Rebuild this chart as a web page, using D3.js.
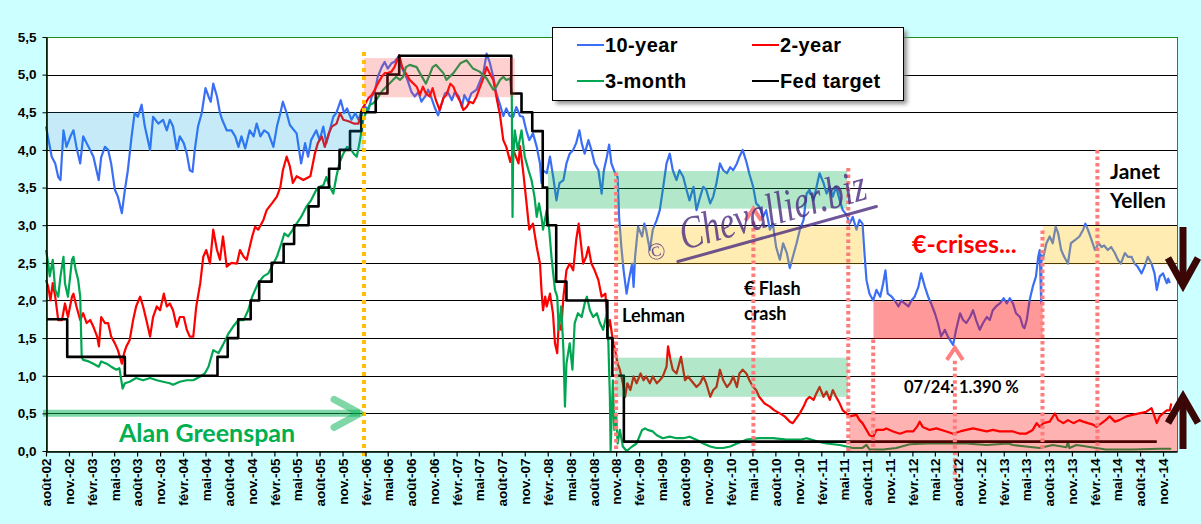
<!DOCTYPE html>
<html><head><meta charset="utf-8">
<script src="https://cdn.jsdelivr.net/npm/d3@7"></script>
<style>body{margin:0;background:#CCFFFF;}svg{display:block}</style>
</head><body><svg id="c" width="1201" height="524"></svg>
<script>
// ---------------- DATA ----------------
const seriesNames = ["10-year","2-year","3-month","Fed target"];
const monthAbbr = ["janv.","févr.","mars","avr.","mai","juin","juil.","août","sept.","oct.","nov.","déc."];
const yTicks = [0,0.5,1,1.5,2,2.5,3,3.5,4,4.5,5,5.5];

const tenYear = [["2002-08-01",4.31],["2002-08-24",3.91],["2002-09-07",3.82],["2002-09-19",3.64],["2002-09-28",3.60],["2002-10-10",4.26],["2002-10-22",4.04],["2002-11-07",4.18],["2002-11-19",4.26],["2002-12-01",4.04],["2002-12-16",3.82],["2002-12-28",4.18],["2003-01-11",4.09],["2003-01-25",4.00],["2003-02-07",3.91],["2003-02-28",3.60],["2003-03-10",3.90],["2003-03-25",4.04],["2003-04-07",4.00],["2003-04-19",3.82],["2003-05-04",3.47],["2003-05-16",3.38],["2003-06-01",3.16],["2003-06-13",3.47],["2003-06-25",3.73],["2003-07-10",4.18],["2003-07-22",4.49],["2003-08-04",4.44],["2003-08-19",4.60],["2003-09-01",4.31],["2003-09-22",4.00],["2003-10-04",4.44],["2003-10-25",4.35],["2003-11-13",4.40],["2003-11-28",4.26],["2003-12-10",4.40],["2003-12-23",4.31],["2004-01-07",4.00],["2004-01-19",4.18],["2004-02-04",4.09],["2004-02-16",3.95],["2004-02-28",3.73],["2004-03-10",3.71],["2004-03-19",4.00],["2004-04-01",4.31],["2004-04-16",4.49],["2004-05-01",4.82],["2004-05-13",4.71],["2004-05-22",4.64],["2004-06-01",4.88],["2004-06-16",4.71],["2004-06-28",4.49],["2004-07-07",4.40],["2004-07-25",4.26],["2004-08-13",4.26],["2004-08-28",4.18],["2004-09-10",4.04],["2004-09-22",4.18],["2004-10-07",4.02],["2004-10-25",4.26],["2004-11-10",4.18],["2004-11-22",4.35],["2004-12-07",4.18],["2004-12-22",4.26],["2005-01-08",4.22],["2005-01-28",4.04],["2005-02-11",4.31],["2005-02-25",4.49],["2005-03-07",4.64],["2005-03-22",4.49],["2005-04-04",4.33],["2005-05-01",4.22],["2005-05-19",3.82],["2005-06-04",4.09],["2005-06-16",3.91],["2005-06-28",4.13],["2005-07-19",4.26],["2005-08-01",4.13],["2005-08-16",4.31],["2005-08-28",4.09],["2005-09-11",4.26],["2005-09-25",4.44],["2005-10-07",4.49],["2005-10-25",4.66],["2005-11-07",4.49],["2005-11-19",4.55],["2005-12-07",4.40],["2005-12-22",4.49],["2006-01-04",4.40],["2006-01-16",4.49],["2006-02-01",4.57],["2006-02-13",4.53],["2006-02-26",4.71],["2006-03-10",4.77],["2006-03-22",4.97],["2006-04-07",5.10],["2006-04-19",5.17],["2006-05-01",5.08],["2006-05-16",5.15],["2006-05-28",5.17],["2006-06-13",5.24],["2006-06-25",5.10],["2006-07-07",5.02],["2006-07-19",4.93],["2006-08-04",4.77],["2006-08-17",4.71],["2006-09-01",4.77],["2006-09-13",4.64],["2006-09-28",4.71],["2006-10-10",4.80],["2006-10-23",4.69],["2006-11-07",4.55],["2006-11-19",4.46],["2006-12-04",4.62],["2006-12-16",4.75],["2006-12-28",4.77],["2007-01-13",4.66],["2007-01-25",4.77],["2007-02-10",4.71],["2007-02-22",4.57],["2007-03-04",4.73],["2007-03-19",4.64],["2007-04-01",4.75],["2007-04-22",4.80],["2007-05-19",5.02],["2007-06-01",5.28],["2007-06-13",5.17],["2007-06-28",4.97],["2007-07-10",4.75],["2007-07-25",4.60],["2007-08-07",4.45],["2007-08-19",4.55],["2007-09-02",4.45],["2007-09-16",4.44],["2007-09-28",4.57],["2007-10-13",4.45],["2007-10-25",4.44],["2007-11-07",4.26],["2007-11-19",4.13],["2007-12-04",4.22],["2007-12-19",4.04],["2008-01-01",3.82],["2008-01-07",3.56],["2008-01-13",3.73],["2008-01-28",3.69],["2008-02-10",3.91],["2008-02-23",3.64],["2008-03-07",3.33],["2008-03-19",3.56],["2008-04-04",3.60],["2008-04-16",3.82],["2008-04-29",3.95],["2008-05-13",4.00],["2008-05-25",4.09],["2008-06-07",4.26],["2008-06-16",4.09],["2008-06-28",3.95],["2008-07-13",4.13],["2008-07-25",4.00],["2008-08-07",3.82],["2008-08-22",3.73],["2008-09-04",3.42],["2008-09-13",3.73],["2008-09-25",3.91],["2008-10-04",4.07],["2008-10-13",3.82],["2008-10-28",3.69],["2008-11-07",3.64],["2008-11-13",3.11],["2008-11-22",2.71],["2008-12-01",2.40],["2008-12-13",2.09],["2008-12-22",2.27],["2009-01-04",2.49],["2009-01-10",2.18],["2009-01-16",2.58],["2009-01-28",2.98],["2009-02-13",2.85],["2009-02-22",3.02],["2009-03-01",2.94],["2009-03-16",2.67],["2009-03-28",2.94],["2009-04-13",3.07],["2009-04-25",3.20],["2009-05-07",3.47],["2009-05-22",3.82],["2009-06-04",3.95],["2009-06-16",3.73],["2009-07-01",3.60],["2009-07-13",3.73],["2009-07-28",3.64],["2009-08-10",3.47],["2009-08-22",3.33],["2009-09-07",3.51],["2009-09-19",3.20],["2009-10-04",3.38],["2009-10-16",3.51],["2009-10-28",3.47],["2009-11-13",3.29],["2009-11-25",3.38],["2009-12-08",3.56],["2009-12-22",3.82],["2010-01-04",3.73],["2010-01-19",3.69],["2010-02-01",3.77],["2010-02-13",3.73],["2010-02-28",3.82],["2010-03-10",3.91],["2010-03-23",4.00],["2010-04-07",3.84],["2010-04-19",3.68],["2010-05-04",3.51],["2010-05-16",3.29],["2010-05-28",3.25],["2010-06-13",3.11],["2010-06-25",3.20],["2010-07-10",2.94],["2010-07-22",3.02],["2010-08-04",2.71],["2010-08-19",2.54],["2010-09-01",2.76],["2010-09-16",2.63],["2010-09-28",2.43],["2010-10-10",2.58],["2010-10-25",2.76],["2010-11-07",2.94],["2010-11-22",3.07],["2010-12-04",3.42],["2010-12-16",3.47],["2011-01-01",3.33],["2011-01-13",3.51],["2011-01-25",3.69],["2011-02-10",3.56],["2011-02-22",3.42],["2011-03-07",3.51],["2011-03-19",3.38],["2011-04-01",3.51],["2011-04-16",3.33],["2011-04-28",3.20],["2011-05-13",3.14],["2011-05-25",3.02],["2011-06-07",3.11],["2011-06-22",2.94],["2011-07-04",3.07],["2011-07-16",3.02],["2011-07-25",2.58],["2011-08-01",2.27],["2011-08-13",2.09],["2011-08-28",2.00],["2011-09-10",2.14],["2011-09-25",2.05],["2011-10-07",2.23],["2011-10-16",2.40],["2011-10-25",2.09],["2011-11-10",2.05],["2011-11-22",2.00],["2011-12-07",1.92],["2011-12-19",2.00],["2012-01-01",1.96],["2012-01-16",1.92],["2012-01-28",2.00],["2012-02-10",2.05],["2012-02-25",2.18],["2012-03-07",2.36],["2012-03-22",2.18],["2012-04-04",2.05],["2012-04-16",1.96],["2012-05-01",1.83],["2012-05-13",1.70],["2012-05-26",1.52],["2012-06-10",1.61],["2012-06-22",1.52],["2012-07-13",1.41],["2012-07-25",1.61],["2012-08-10",1.83],["2012-08-22",1.74],["2012-09-04",1.70],["2012-09-19",1.78],["2012-10-01",1.87],["2012-10-13",1.74],["2012-10-28",1.61],["2012-11-10",1.70],["2012-11-25",1.78],["2012-12-07",1.74],["2012-12-19",1.87],["2013-01-01",1.92],["2013-01-16",1.96],["2013-02-01",2.03],["2013-02-13",1.96],["2013-02-25",2.03],["2013-03-10",1.96],["2013-03-22",1.83],["2013-04-07",1.78],["2013-04-19",1.65],["2013-04-25",1.63],["2013-05-04",1.74],["2013-05-16",2.01],["2013-05-28",2.18],["2013-06-10",2.32],["2013-06-19",2.58],["2013-06-25",2.67],["2013-07-01",1.96],["2013-07-02",2.60],["2013-07-07",2.54],["2013-07-22",2.76],["2013-08-04",2.85],["2013-08-16",2.76],["2013-08-28",2.98],["2013-09-07",2.89],["2013-09-19",2.67],["2013-10-01",2.58],["2013-10-16",2.49],["2013-10-28",2.76],["2013-11-13",2.80],["2013-12-01",2.85],["2013-12-16",2.94],["2013-12-25",3.02],["2014-01-04",2.94],["2014-01-19",2.80],["2014-02-01",2.67],["2014-02-16",2.76],["2014-02-28",2.71],["2014-03-10",2.73],["2014-03-25",2.67],["2014-04-07",2.71],["2014-04-22",2.63],["2014-05-04",2.54],["2014-05-16",2.49],["2014-06-01",2.63],["2014-06-13",2.58],["2014-06-28",2.58],["2014-07-10",2.49],["2014-07-22",2.45],["2014-08-07",2.36],["2014-08-19",2.45],["2014-09-01",2.58],["2014-09-16",2.49],["2014-09-28",2.36],["2014-10-07",2.14],["2014-10-19",2.32],["2014-11-01",2.36],["2014-11-16",2.23],["2014-11-22",2.29],["2014-11-28",2.23]];

const twoYear = [["2002-08-01",2.27],["2002-08-10",2.18],["2002-08-19",2.00],["2002-08-28",2.23],["2002-09-07",2.05],["2002-09-19",1.74],["2002-10-04",1.74],["2002-10-16",1.96],["2002-10-28",1.78],["2002-11-13",2.05],["2002-11-19",2.09],["2002-12-01",1.92],["2002-12-16",1.74],["2002-12-28",1.83],["2003-01-11",1.70],["2003-01-25",1.74],["2003-02-07",1.65],["2003-02-22",1.52],["2003-03-01",1.39],["2003-03-10",1.78],["2003-03-25",1.70],["2003-04-07",1.70],["2003-04-19",1.52],["2003-05-04",1.43],["2003-05-16",1.34],["2003-06-01",1.16],["2003-06-10",1.30],["2003-06-19",1.39],["2003-07-02",1.47],["2003-07-16",1.74],["2003-07-28",1.92],["2003-08-13",2.05],["2003-08-25",1.92],["2003-09-07",1.74],["2003-09-22",1.52],["2003-10-04",1.78],["2003-10-19",1.92],["2003-11-01",1.87],["2003-11-16",2.09],["2003-11-28",1.92],["2003-12-10",1.96],["2003-12-23",1.87],["2004-01-07",1.65],["2004-01-19",1.78],["2004-02-04",1.78],["2004-02-16",1.61],["2004-02-28",1.52],["2004-03-13",1.52],["2004-03-25",1.92],["2004-04-10",2.23],["2004-04-22",2.58],["2004-05-04",2.67],["2004-05-19",2.49],["2004-06-01",2.94],["2004-06-16",2.67],["2004-06-28",2.54],["2004-07-10",2.85],["2004-07-25",2.45],["2004-08-13",2.50],["2004-09-04",2.49],["2004-09-16",2.67],["2004-10-01",2.58],["2004-10-13",2.54],["2004-11-04",2.85],["2004-11-16",2.98],["2004-11-28",2.94],["2004-12-19",3.07],["2005-01-01",3.20],["2005-01-22",3.29],["2005-02-11",3.38],["2005-02-25",3.51],["2005-03-07",3.73],["2005-03-22",3.91],["2005-04-04",3.78],["2005-04-16",3.56],["2005-05-01",3.65],["2005-05-28",3.60],["2005-06-25",3.65],["2005-07-13",3.95],["2005-07-25",4.09],["2005-08-10",4.18],["2005-08-22",4.04],["2005-09-07",4.22],["2005-09-19",4.31],["2005-10-08",4.35],["2005-10-22",4.49],["2005-11-04",4.40],["2005-11-25",4.38],["2005-12-16",4.35],["2006-01-04",4.35],["2006-01-16",4.53],["2006-02-01",4.62],["2006-02-13",4.69],["2006-02-26",4.73],["2006-03-10",4.80],["2006-03-22",4.88],["2006-04-07",4.97],["2006-04-19",5.02],["2006-05-01",5.02],["2006-05-16",5.04],["2006-05-28",5.10],["2006-06-16",5.26],["2006-06-28",5.10],["2006-07-28",4.93],["2006-08-25",4.84],["2006-09-07",4.73],["2006-09-19",4.84],["2006-10-01",4.75],["2006-10-16",4.71],["2006-10-28",4.82],["2006-11-10",4.66],["2006-11-25",4.53],["2006-12-10",4.69],["2006-12-22",4.73],["2007-01-07",4.88],["2007-01-19",4.84],["2007-02-01",4.73],["2007-02-16",4.64],["2007-02-28",4.53],["2007-03-13",4.57],["2007-03-25",4.64],["2007-04-08",4.62],["2007-04-22",4.71],["2007-05-04",4.82],["2007-05-19",4.95],["2007-06-01",5.10],["2007-06-13",5.02],["2007-06-28",4.93],["2007-07-10",4.71],["2007-07-25",4.46],["2007-08-07",4.13],["2007-08-19",4.04],["2007-09-04",3.84],["2007-09-16",4.00],["2007-10-07",3.82],["2007-10-13",4.05],["2007-10-25",3.73],["2007-11-07",3.33],["2007-11-19",2.94],["2007-12-04",3.02],["2007-12-19",2.71],["2008-01-01",2.49],["2008-01-07",2.14],["2008-01-13",1.87],["2008-01-22",2.05],["2008-01-28",1.92],["2008-02-10",2.09],["2008-02-22",1.83],["2008-03-01",1.43],["2008-03-10",1.30],["2008-03-16",1.70],["2008-03-26",1.61],["2008-04-04",2.05],["2008-04-16",2.40],["2008-04-29",2.49],["2008-05-13",2.40],["2008-05-25",2.80],["2008-06-04",3.02],["2008-06-13",2.76],["2008-06-22",2.49],["2008-07-04",2.58],["2008-07-13",2.71],["2008-07-25",2.49],["2008-08-07",2.40],["2008-08-22",2.27],["2008-09-04",2.05],["2008-09-19",2.09],["2008-09-28",1.61],["2008-10-07",1.74],["2008-10-19",1.47],["2008-10-28",1.34],["2008-11-07",1.16],["2008-11-16",1.08],["2008-11-28",0.90],["2008-12-07",0.72],["2008-12-16",0.90],["2008-12-28",0.81],["2009-01-10",0.99],["2009-01-22",0.90],["2009-02-07",1.03],["2009-02-19",0.94],["2009-03-01",0.99],["2009-03-16",0.90],["2009-03-28",0.99],["2009-04-13",0.90],["2009-04-25",0.94],["2009-05-07",0.99],["2009-05-22",1.12],["2009-05-28",1.39],["2009-06-07",1.21],["2009-06-16",1.08],["2009-07-01",1.03],["2009-07-19",1.25],["2009-08-04",0.94],["2009-08-16",0.99],["2009-08-28",0.94],["2009-09-19",0.85],["2009-10-04",0.90],["2009-10-16",0.99],["2009-10-28",0.90],["2009-11-13",0.72],["2009-11-25",0.81],["2009-12-08",0.85],["2009-12-22",1.08],["2010-01-04",0.94],["2010-01-19",0.85],["2010-02-01",0.90],["2010-02-13",0.99],["2010-02-28",0.85],["2010-03-10",1.03],["2010-03-23",1.08],["2010-04-07",1.03],["2010-04-19",0.94],["2010-05-04",0.85],["2010-05-16",0.81],["2010-05-28",0.72],["2010-06-19",0.63],["2010-07-10",0.59],["2010-07-28",0.54],["2010-08-19",0.50],["2010-09-07",0.46],["2010-09-28",0.39],["2010-10-10",0.37],["2010-10-25",0.44],["2010-11-07",0.50],["2010-11-22",0.59],["2010-12-04",0.68],["2010-12-16",0.72],["2011-01-01",0.68],["2011-01-13",0.77],["2011-01-25",0.85],["2011-02-10",0.72],["2011-02-22",0.79],["2011-03-07",0.68],["2011-03-19",0.81],["2011-04-01",0.72],["2011-04-16",0.63],["2011-04-28",0.54],["2011-05-13",0.50],["2011-05-25",0.46],["2011-06-22",0.48],["2011-07-04",0.41],["2011-07-16",0.37],["2011-08-01",0.28],["2011-08-13",0.21],["2011-08-28",0.19],["2011-09-10",0.28],["2011-10-07",0.28],["2011-10-19",0.30],["2011-11-16",0.26],["2011-12-13",0.23],["2012-01-07",0.26],["2012-02-04",0.26],["2012-02-19",0.32],["2012-03-01",0.39],["2012-03-13",0.32],["2012-04-10",0.28],["2012-05-07",0.30],["2012-06-16",0.26],["2012-07-13",0.23],["2012-08-10",0.26],["2012-09-04",0.28],["2012-10-01",0.30],["2012-10-28",0.28],["2012-11-25",0.26],["2012-12-19",0.28],["2013-01-16",0.26],["2013-02-13",0.26],["2013-03-10",0.26],["2013-04-07",0.23],["2013-05-01",0.23],["2013-05-28",0.28],["2013-06-13",0.37],["2013-06-25",0.32],["2013-07-10",0.37],["2013-08-04",0.39],["2013-08-25",0.50],["2013-09-07",0.41],["2013-09-28",0.37],["2013-10-16",0.41],["2013-11-07",0.37],["2013-12-01",0.41],["2013-12-16",0.39],["2014-01-04",0.37],["2014-01-25",0.35],["2014-02-07",0.32],["2014-02-28",0.37],["2014-03-16",0.41],["2014-04-01",0.46],["2014-04-22",0.39],["2014-05-10",0.41],["2014-06-07",0.46],["2014-07-01",0.48],["2014-07-28",0.50],["2014-08-25",0.52],["2014-09-16",0.57],["2014-10-07",0.37],["2014-10-19",0.46],["2014-11-01",0.50],["2014-11-16",0.54],["2014-11-28",0.54],["2014-12-04",0.63]];

const threeMonth = [["2002-08-01",2.67],["2002-08-10",2.49],["2002-08-16",2.32],["2002-08-28",2.54],["2002-09-07",2.14],["2002-09-19",2.05],["2002-09-28",2.32],["2002-10-10",2.58],["2002-10-16",2.23],["2002-10-28",2.05],["2002-11-13",2.54],["2002-11-19",2.58],["2002-11-28",2.40],["2002-12-08",2.27],["2002-12-16",2.05],["2002-12-22",1.25],["2002-12-28",1.21],["2003-01-19",1.19],["2003-02-07",1.16],["2003-02-28",1.12],["2003-03-10",1.19],["2003-04-01",1.16],["2003-04-19",1.12],["2003-05-10",1.08],["2003-05-22",1.10],["2003-06-04",0.83],["2003-06-13",0.90],["2003-07-02",0.92],["2003-07-28",0.97],["2003-08-25",0.94],["2003-09-22",0.97],["2003-10-19",0.94],["2003-11-13",0.92],["2003-12-10",0.90],["2003-12-23",0.88],["2004-01-19",0.92],["2004-02-16",0.94],["2004-03-13",0.94],["2004-04-10",0.99],["2004-04-28",1.03],["2004-05-13",1.12],["2004-06-01",1.34],["2004-06-22",1.30],["2004-07-10",1.41],["2004-08-01",1.56],["2004-08-19",1.65],["2004-09-10",1.74],["2004-10-01",1.74],["2004-10-19",1.87],["2004-11-04",2.05],["2004-11-16",2.14],["2004-11-28",2.23],["2004-12-19",2.32],["2005-01-08",2.36],["2005-01-28",2.49],["2005-02-11",2.58],["2005-03-01",2.76],["2005-03-13",2.89],["2005-03-28",2.85],["2005-04-16",2.94],["2005-05-01",3.02],["2005-05-19",3.11],["2005-06-10",3.25],["2005-06-28",3.33],["2005-07-19",3.47],["2005-08-01",3.51],["2005-08-16",3.53],["2005-08-28",3.64],["2005-09-11",3.51],["2005-09-25",3.42],["2005-10-07",3.64],["2005-10-19",3.82],["2005-11-04",3.95],["2005-11-19",4.04],["2005-12-01",4.02],["2005-12-16",3.95],["2005-12-28",3.91],["2006-01-10",4.13],["2006-01-23",4.40],["2006-02-07",4.53],["2006-02-19",4.60],["2006-03-04",4.62],["2006-03-16",4.66],["2006-03-29",4.73],["2006-04-13",4.80],["2006-04-25",4.84],["2006-05-07",4.88],["2006-05-22",4.93],["2006-06-04",4.97],["2006-06-19",4.93],["2006-07-01",4.97],["2006-07-13",5.10],["2006-07-28",5.13],["2006-08-25",5.10],["2006-09-07",5.02],["2006-09-19",4.95],["2006-10-01",4.88],["2006-10-16",5.00],["2006-10-28",5.10],["2006-11-10",5.13],["2006-12-10",5.02],["2006-12-22",4.93],["2007-01-19",5.02],["2007-02-16",5.15],["2007-03-13",5.19],["2007-04-08",5.08],["2007-05-04",5.04],["2007-06-01",4.95],["2007-06-28",4.80],["2007-07-10",4.84],["2007-07-25",4.93],["2007-08-07",4.97],["2007-08-19",4.93],["2007-09-04",4.95],["2007-09-10",4.71],["2007-09-13",3.11],["2007-09-15",3.82],["2007-09-22",4.26],["2007-10-04",4.00],["2007-10-19",4.26],["2007-11-01",3.91],["2007-11-16",3.73],["2007-11-28",3.60],["2007-12-10",3.38],["2007-12-19",3.11],["2007-12-28",3.29],["2008-01-07",3.11],["2008-01-13",2.94],["2008-01-28",3.20],["2008-02-07",2.94],["2008-02-16",2.58],["2008-03-01",2.14],["2008-03-10",2.05],["2008-03-16",1.61],["2008-03-26",1.92],["2008-04-04",1.34],["2008-04-10",0.59],["2008-04-16",1.16],["2008-04-29",1.43],["2008-05-10",1.08],["2008-05-19",1.70],["2008-06-01",1.83],["2008-06-16",1.78],["2008-06-28",1.96],["2008-07-07",2.05],["2008-07-19",1.87],["2008-08-01",1.78],["2008-08-16",1.83],["2008-08-28",1.70],["2008-09-10",1.61],["2008-09-25",1.83],["2008-10-01",1.43],["2008-10-07",0.72],["2008-10-10",0.01],["2008-10-19",0.94],["2008-10-25",0.28],["2008-11-01",0.50],["2008-11-07",0.10],["2008-11-16",0.28],["2008-11-28",0.06],["2008-12-13",0.00],["2009-01-04",0.06],["2009-01-22",0.10],["2009-02-13",0.28],["2009-02-25",0.30],["2009-03-07",0.28],["2009-03-28",0.26],["2009-04-13",0.21],["2009-05-07",0.17],["2009-06-04",0.19],["2009-07-01",0.17],["2009-07-28",0.17],["2009-08-22",0.19],["2009-09-19",0.15],["2009-10-16",0.10],["2009-11-13",0.06],["2009-12-08",0.04],["2010-01-04",0.04],["2010-02-01",0.06],["2010-02-28",0.10],["2010-04-07",0.15],["2010-05-28",0.17],["2010-07-22",0.17],["2010-09-16",0.15],["2010-11-07",0.15],["2010-12-04",0.17],["2011-01-25",0.12],["2011-02-22",0.10],["2011-04-16",0.08],["2011-06-07",0.04],["2011-07-16",0.04],["2011-08-01",0.08],["2011-08-13",0.02],["2011-10-07",0.02],["2011-11-28",0.04],["2012-01-22",0.09],["2012-04-01",0.10],["2012-06-16",0.10],["2012-09-04",0.10],["2012-11-25",0.08],["2013-02-19",0.10],["2013-03-10",0.08],["2013-05-01",0.06],["2013-06-25",0.04],["2013-08-16",0.08],["2013-10-10",0.05],["2013-10-16",0.12],["2013-10-22",0.04],["2013-11-19",0.08],["2014-02-07",0.04],["2014-03-16",0.02],["2014-07-01",0.02],["2014-10-19",0.03],["2014-12-04",0.03]];

const fedTarget = [["2002-08-01",1.75],["2002-10-25",1.25],["2003-06-13",1.00],["2004-06-18",1.25],["2004-07-29",1.50],["2004-09-09",1.75],["2004-10-29",2.00],["2004-12-02",2.25],["2005-01-21",2.50],["2005-03-10",2.75],["2005-04-21",3.00],["2005-06-18",3.25],["2005-07-28",3.50],["2005-09-08",3.75],["2005-10-20",4.00],["2005-12-01",4.25],["2006-01-15",4.50],["2006-03-14",4.75],["2006-04-30",5.00],["2006-06-16",5.25],["2007-09-08",4.75],["2007-10-19",4.50],["2007-12-01",4.25],["2008-01-12",3.50],["2008-01-30",3.00],["2008-03-06",2.25],["2008-04-16",2.00],["2008-09-27",1.50],["2008-10-17",1.00],["2008-12-02",0.125],["2014-10-07",0.125]];

// shaded zones: [from, to, low, high, kind]
const zones = [
  ["2002-08-01","2006-01-26",4.0,4.5,"blue"],
  ["2006-01-26","2007-09-22",4.70,5.22,"pink"],
  ["2008-02-02","2011-05-16",3.22,3.72,"green"],
  ["2008-10-28","2011-07-16",2.48,2.98,"yellow"],
  ["2008-10-28","2011-05-19",0.72,1.24,"green"],
  ["2011-05-25","2014-12-27",0.0,0.49,"rose"],
  ["2011-08-29","2013-07-07",1.49,1.99,"red"],
  ["2013-07-07","2014-12-27",2.48,2.99,"yellow"]
];
// event markers: [date, top value, bottom value]
const events = [
  ["2008-11-01",3.70,0],
  ["2010-05-05",3.05,-0.05],
  ["2011-05-20",3.76,0],
  ["2011-08-28",1.48,0],
  ["2012-07-20",1.20,-0.38],
  ["2013-07-06",2.93,0],
  ["2014-02-11",4.00,-0.05]
];
const greenspanEnd = ["2006-01-26",5.3,-0.07];

// ---------------- DRAW ----------------
const parse = d3.timeParse("%Y-%m-%d");
const svg = d3.select("#c");
const W = 1201, H = 524;
svg.append("rect").attr("width",W).attr("height",H).attr("fill","#CCFFFF");

const x = d3.scaleTime().domain([parse("2002-08-01"), parse("2014-12-27")]).range([46,1177]);
const y = d3.scaleLinear().domain([0,5.5]).range([451,37]);
const [x0,x1] = x.range();

const defs = svg.append("defs");
const f = defs.append("filter").attr("id","sh").attr("x","-10%").attr("y","-20%").attr("width","130%").attr("height","160%");
f.append("feGaussianBlur").attr("stdDeviation",2);

svg.append("rect").attr("x",x0).attr("y",y(5.5)).attr("width",x1-x0).attr("height",y(0)-y(5.5)).attr("fill","#fff");

// grid
svg.append("g").selectAll("line").data(yTicks.filter(v=>v>0 && v<5.5)).join("line")
  .attr("x1",x0).attr("x2",x1).attr("y1",d=>Math.round(y(d))+0.5).attr("y2",d=>Math.round(y(d))+0.5)
  .attr("stroke","#000").attr("stroke-width",1);

// series
const series = [
  {data:tenYear, color:"#3A6EF5", w:2.2},
  {data:twoYear, color:"#FF0000", w:2.2},
  {data:threeMonth, color:"#00A651", w:2.2},
  {data:fedTarget, color:"#000000", w:2.6, step:true}
];
series.forEach(s=>{
  const ln = d3.line().x(d=>x(parse(d[0]))).y(d=>y(d[1]));
  if (s.step) ln.curve(d3.curveStepAfter);
  svg.append("path").datum(s.data).attr("d",ln).attr("fill","none")
    .attr("stroke",s.color).attr("stroke-width",s.w).attr("stroke-linejoin","round");
});

// zones over lines
const zoneFill = {blue:"rgba(0,160,225,0.22)", pink:"rgba(255,60,60,0.24)", green:"rgba(0,176,80,0.30)",
  yellow:"rgba(255,192,0,0.30)", rose:"rgba(255,0,0,0.30)", red:"rgba(255,0,0,0.40)"};
svg.append("g").selectAll("rect").data(zones).join("rect")
  .attr("x",d=>x(parse(d[0]))).attr("width",d=>x(parse(d[1]))-x(parse(d[0])))
  .attr("y",d=>y(d[3])).attr("height",d=>y(d[2])-y(d[3]))
  .attr("fill",d=>zoneFill[d[4]]);

// event dotted lines
svg.append("g").selectAll("line").data(events).join("line")
  .attr("x1",d=>x(parse(d[0]))).attr("x2",d=>x(parse(d[0])))
  .attr("y1",d=>y(d[1])).attr("y2",d=>y(d[2]))
  .attr("stroke","#FF7C7C").attr("stroke-width",4).attr("stroke-dasharray","3.5,3");
svg.append("line").attr("x1",x(parse(greenspanEnd[0]))).attr("x2",x(parse(greenspanEnd[0])))
  .attr("y1",y(greenspanEnd[1])).attr("y2",y(greenspanEnd[2]))
  .attr("stroke","#FFC000").attr("stroke-width",4).attr("stroke-dasharray","4,4");

// chevrons at event markers
const chev = (cx, cy) => svg.append("polyline")
  .attr("points",`${cx-8},${cy+12} ${cx},${cy} ${cx+8},${cy+12}`)
  .attr("fill","none").attr("stroke","#FF8080").attr("stroke-width",4);
chev(x(parse(events[1][0])), y(3.22));
chev(x(parse(events[4][0])), y(1.37));

// plot border
svg.append("rect").attr("x",x0+0.5).attr("y",y(5.5)+0.5).attr("width",x1-x0).attr("height",y(0)-y(5.5))
  .attr("fill","none").attr("stroke","#1E8C1E").attr("stroke-width",1);

// Greenspan arrow
const gy = y(0.5);
const gx1 = x(parse(greenspanEnd[0])) - 4;
svg.append("line").attr("x1",x0-3).attr("x2",gx1).attr("y1",gy).attr("y2",gy)
  .attr("stroke","rgba(0,176,80,0.5)").attr("stroke-width",7);
svg.append("polyline").attr("points",`${gx1-26},${gy-14} ${gx1},${gy} ${gx1-26},${gy+14}`)
  .attr("fill","none").attr("stroke","rgba(0,176,80,0.5)").attr("stroke-width",7).attr("stroke-linecap","round").attr("stroke-linejoin","round");
svg.append("text").attr("x",119).attr("y",442).text("Alan Greenspan")
  .attr("font-family","Lato").attr("font-weight",700).attr("font-size",25).attr("fill","#00B050");

// dark arrows at right
const ax = 1183, dark = "#3A0606";
svg.append("line").attr("x1",ax).attr("x2",ax).attr("y1",227).attr("y2",283).attr("stroke",dark).attr("stroke-width",7);
svg.append("polyline").attr("points",`${ax-15},${258} ${ax},${285} ${ax+15},${258}`).attr("fill","none").attr("stroke",dark).attr("stroke-width",7);
svg.append("line").attr("x1",ax).attr("x2",ax).attr("y1",400).attr("y2",449).attr("stroke",dark).attr("stroke-width",7);
svg.append("polyline").attr("points",`${ax-15},${423} ${ax},${397} ${ax+15},${423}`).attr("fill","none").attr("stroke",dark).attr("stroke-width",7);

// annotations
const ann = (tx, ty, t, size, color) => svg.append("text").attr("x",tx).attr("y",ty).text(t)
  .attr("font-family","Lato").attr("font-weight",700).attr("font-size",size).attr("fill",color||"#000");
ann(622,322,"Lehman",18);
ann(744,295,"€ Flash",18);
ann(744,320,"crash",18);
ann(912,253,"€-crises...",25,"#FF0000");
ann(904,393,"07/24:",16.5);
ann(959,393,"1.390 %",16.5);
ann(1110,179,"Janet",21);
ann(1110,208,"Yellen",21);

// watermark
const wm = svg.append("g").attr("transform","translate(684,250) rotate(-15.5)").attr("opacity",0.8);
wm.append("text").attr("x",-36).attr("y",2).text("©").attr("font-family","Liberation Serif").attr("font-size",24).attr("fill","#4A2C80");
wm.append("text").attr("x",0).attr("y",0).text("Chevallier.biz").attr("font-family","Liberation Serif")
  .attr("font-style","italic").attr("font-size",46).attr("textLength",192).attr("lengthAdjust","spacingAndGlyphs").attr("fill","#4A2C80");
wm.append("line").attr("x1",-9).attr("x2",197).attr("y1",9.5).attr("y2",9.5).attr("stroke","#4A2C80").attr("stroke-width",3).attr("stroke-linecap","round");

// axes
const tickDates = d3.timeMonth.range(parse("2002-08-01"), parse("2014-11-02"), 3);
const xAxis = d3.axisBottom(x).tickValues(tickDates).tickSizeInner(5).tickSizeOuter(0)
  .tickFormat(d=>monthAbbr[d.getMonth()]+"-"+String(d.getFullYear()).slice(2));
svg.append("g").attr("transform",`translate(0,${y(0)+0.5})`).call(xAxis)
  .call(g=>{
    g.select(".domain").attr("stroke","#000").attr("stroke-width",1.5);
    g.selectAll(".tick line").attr("stroke","#000").attr("stroke-width",1.2);
    g.selectAll("text").attr("transform","rotate(-90)").attr("text-anchor","end")
      .attr("x",-7).attr("y",0).attr("dy","0.36em")
      .attr("font-family","Liberation Sans").attr("font-weight",700).attr("font-size",13.5).attr("fill","#000");
  });
const yAxis = d3.axisLeft(y).tickValues(yTicks).tickSizeInner(4).tickSizeOuter(0)
  .tickFormat(d=>d.toFixed(1).replace(".",","));
svg.append("g").attr("transform",`translate(${x0+0.5},0)`).call(yAxis)
  .call(g=>{
    g.select(".domain").attr("stroke","#000").attr("stroke-width",1.5);
    g.selectAll(".tick line").attr("stroke","#000");
    g.selectAll("text").attr("x",-10).attr("font-family","Liberation Sans").attr("font-weight",700).attr("font-size",13.5).attr("fill","#000");
  });

// legend
const lg = svg.append("g");
lg.append("rect").attr("x",556).attr("y",31).attr("width",351).attr("height",73).attr("fill","#777").attr("filter","url(#sh)").attr("opacity",0.8);
lg.append("rect").attr("x",552.5).attr("y",27.5).attr("width",351).attr("height",73).attr("fill","#fff").attr("stroke","#000").attr("stroke-width",1);
const legendPos = [[577,45],[752,45],[577,81],[752,81]];
seriesNames.forEach((n,i)=>{
  const [lx,ly] = legendPos[i];
  lg.append("line").attr("x1",lx).attr("x2",lx+27).attr("y1",ly).attr("y2",ly).attr("stroke",series[i].color).attr("stroke-width",2);
  lg.append("text").attr("x",lx+28).attr("y",ly+7).text(n)
    .attr("font-family","Liberation Sans").attr("font-weight",700).attr("font-size",20).attr("letter-spacing",0.4).attr("fill","#000");
});
</script></body></html>
